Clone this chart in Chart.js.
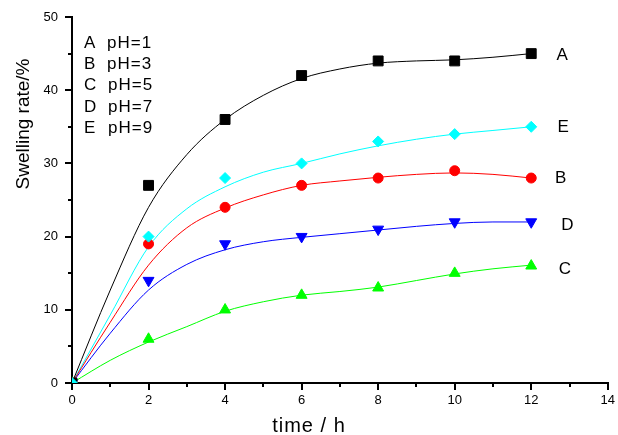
<!DOCTYPE html>
<html>
<head>
<meta charset="utf-8">
<script src="https://cdn.jsdelivr.net/npm/chart.js@4.4.1/dist/chart.umd.min.js"></script>
<style>
  html, body { margin: 0; padding: 0; background: #fff; }
  #wrap { width: 618px; height: 435px; }
</style>
</head>
<body>
<div id="wrap"><canvas id="swellChart" width="618" height="435"></canvas></div>
<script>
// Measured points (time in h, swelling rate in %)
const times = [0, 2, 4, 6, 8, 10, 12];
const pointsA = [0, 27, 36, 42, 44, 44, 45];
const pointsB = [0, 19, 24, 27, 28, 29, 28];
const pointsC = [0, 6, 10, 12, 13, 15, 16];
const pointsD = [0, 14, 19, 20, 21, 22, 22];
const pointsE = [0, 20, 28, 30, 33, 34, 35];

// Fitted curves, every hour
const curveTimes = [0, 1, 2, 3, 4, 5, 6, 7, 8, 9, 10, 11, 12];
const curveA = [0, 12.7, 24.0, 31.2, 36.0, 39.3, 41.6, 42.9, 43.7, 44.0, 44.15, 44.5, 45.0];
const curveB = [0, 8.3, 16.1, 21.2, 23.9, 25.7, 27.0, 27.6, 28.1, 28.5, 28.7, 28.5, 28.0];
const curveC = [0, 3.1, 5.6, 7.7, 9.8, 11.1, 12.0, 12.5, 13.1, 14.0, 14.9, 15.6, 16.1];
const curveD = [0, 6.8, 12.7, 16.2, 18.2, 19.3, 19.9, 20.4, 20.9, 21.4, 21.8, 22.0, 22.0];
const curveE = [0, 9.3, 18.6, 23.8, 26.8, 28.8, 30.0, 31.3, 32.4, 33.3, 34.0, 34.5, 35.0];

// Legend lines and end labels
const legendLines = ['A  pH=1', 'B  pH=3', 'C  pH=5', 'D  pH=7', 'E  pH=9'];
const endNames = ['A', 'E', 'B', 'D', 'C'];
const endX = [12.82, 12.85, 12.78, 12.96, 12.89];
const endY = [44.8, 34.9, 27.9, 21.5, 15.5];

const xTicks = [0, 2, 4, 6, 8, 10, 12, 14];
const yTicks = [0, 10, 20, 30, 40, 50];
const xMinor = [1, 3, 5, 7, 9, 11, 13];
const yMinor = [5, 15, 25, 35, 45];

const FONT = "'Liberation Sans', Arial, sans-serif";

const toXY = (xs, ys) => xs.map((x, i) => ({ x: x, y: ys[i] }));

const curveSet = (data, color) => ({
    type: 'line',
    data: toXY(curveTimes, data),
    borderColor: color,
    borderWidth: 1,
    pointRadius: 0,
    cubicInterpolationMode: 'monotone',
    fill: false,
    order: 10
});

const markerSet = (data, color, style, radius, rotation, order) => ({
    type: 'scatter',
    data: toXY(times, data),
    showLine: false,
    pointStyle: style,
    pointRadius: radius,
    pointRotation: rotation,
    pointBackgroundColor: color,
    pointBorderColor: color,
    pointBorderWidth: 1,
    clip: 0,
    order: order
});

// Minor ticks, text labels and axis titles
const decorPlugin = {
    id: 'decor',
    afterDraw(chart) {
        const ctx = chart.ctx;
        const xs = chart.scales.x;
        const ys = chart.scales.y;
        const area = chart.chartArea;
        ctx.save();
        ctx.strokeStyle = '#000';
        ctx.lineWidth = 2;
        xMinor.forEach(v => {
            const px = Math.round(xs.getPixelForValue(v));
            ctx.beginPath();
            ctx.moveTo(px, area.bottom);
            ctx.lineTo(px, area.bottom + 4);
            ctx.stroke();
        });
        yMinor.forEach(v => {
            const py = Math.round(ys.getPixelForValue(v));
            ctx.beginPath();
            ctx.moveTo(area.left, py);
            ctx.lineTo(area.left - 4, py);
            ctx.stroke();
        });

        ctx.fillStyle = '#000';
        if ('letterSpacing' in ctx) ctx.letterSpacing = '1px';
        ctx.font = '17px ' + FONT;
        ctx.textAlign = 'left';
        ctx.textBaseline = 'middle';
        legendLines.forEach((t, i) => {
            const parts = t.split('  ');
            const y = 43 + i * 21.4;
            ctx.fillText(parts[0], 84, y);
            ctx.fillText(parts[1], i < 2 ? 107 : 108, y);
        });

        ctx.textAlign = 'center';
        endNames.forEach((n, i) => {
            ctx.fillText(n, xs.getPixelForValue(endX[i]), ys.getPixelForValue(endY[i]));
        });

        ctx.font = '20px ' + FONT;
        ctx.textBaseline = 'alphabetic';
        ctx.fillText('time / h', 309, 432);

        ctx.save();
        ctx.translate(29, 124);
        ctx.rotate(-Math.PI / 2);
        ctx.font = '19px ' + FONT;
        ctx.letterSpacing = '0px';
        ctx.fillText('Swelling rate/%', 0, 0);
        ctx.restore();
        ctx.restore();
    }
};

const ctx = document.getElementById('swellChart').getContext('2d');
new Chart(ctx, {
    data: {
        datasets: [
            markerSet(pointsE, '#00ffff', 'rectRot', 5.5, 0, 1),
            markerSet(pointsA, '#000000', 'rect', 7, 0, 2),
            markerSet(pointsB, '#ff0000', 'circle', 5, 0, 3),
            markerSet(pointsD, '#0000ff', 'triangle', 6.3, 180, 4),
            markerSet(pointsC, '#00ff00', 'triangle', 6.3, 0, 5),
            curveSet(curveA, '#000000'),
            curveSet(curveB, '#ff0000'),
            curveSet(curveC, '#00ff00'),
            curveSet(curveD, '#0000ff'),
            curveSet(curveE, '#00ffff')
        ]
    },
    options: {
        responsive: false,
        animation: false,
        layout: { padding: { left: 0, top: 17, right: 8, bottom: 0 } },
        plugins: {
            legend: { display: false },
            tooltip: { enabled: false }
        },
        scales: {
            x: {
                type: 'linear',
                min: 0,
                max: 14,
                afterBuildTicks: (scale) => { scale.ticks = xTicks.map(v => ({ value: v })); },
                afterFit: (scale) => { scale.height = 52; },
                border: { display: true, color: '#000', width: 2 },
                grid: { drawOnChartArea: false, drawTicks: true, tickLength: 7, color: '#000', lineWidth: 2 },
                ticks: { color: '#000', padding: 3, font: { family: FONT, size: 13 }, maxRotation: 0 }
            },
            y: {
                type: 'linear',
                min: 0,
                max: 50,
                afterBuildTicks: (scale) => { scale.ticks = yTicks.map(v => ({ value: v })); },
                afterFit: (scale) => { scale.width = 72; },
                border: { display: true, color: '#000', width: 2 },
                grid: { drawOnChartArea: false, drawTicks: true, tickLength: 7, color: '#000', lineWidth: 2 },
                ticks: { color: '#000', padding: 7, font: { family: FONT, size: 13 } }
            }
        }
    },
    plugins: [decorPlugin]
});
</script>
</body>
</html>
